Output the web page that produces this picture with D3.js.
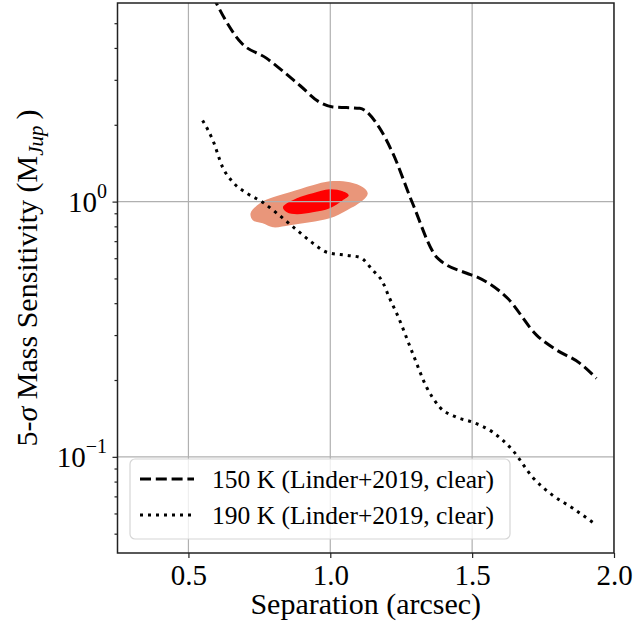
<!DOCTYPE html>
<html>
<head>
<meta charset="utf-8">
<script src="https://cdn.jsdelivr.net/npm/d3@7"></script>
<style>
  body { margin: 0; background: #fff; }
  svg text { font-family: "Liberation Serif", "DejaVu Serif", serif; fill: #000; }
</style>
</head>
<body>
<svg id="chart" width="634" height="628"></svg>
<script>

// 150 K curve (Linder+2019, clear): [separation arcsec, mass M_Jup]
var curve150 = [
  [0.56, 7.3], [0.687, 4.18], [0.776, 3.64], [0.822, 3.32], [0.893, 2.85],
  [0.963, 2.45], [1.009, 2.35], [1.104, 2.32], [1.174, 1.94], [1.220, 1.55],
  [1.290, 0.985], [1.375, 0.605], [1.396, 0.578], [1.481, 0.524], [1.520, 0.505],
  [1.625, 0.418], [1.727, 0.300], [1.798, 0.262], [1.879, 0.233], [1.938, 0.203]
];

// 190 K curve (Linder+2019, clear)
var curve190 = [
  [0.550, 2.08], [0.586, 1.74], [0.621, 1.36], [0.657, 1.19], [0.706, 1.078],
  [0.762, 0.994], [0.812, 0.90], [0.875, 0.786], [0.939, 0.687], [0.988, 0.633],
  [1.058, 0.616], [1.104, 0.605], [1.150, 0.538], [1.185, 0.483], [1.209, 0.418],
  [1.234, 0.365], [1.290, 0.255], [1.340, 0.187], [1.386, 0.1565], [1.445, 0.143],
  [1.502, 0.1367], [1.572, 0.125], [1.643, 0.106], [1.713, 0.0832], [1.783, 0.0708],
  [1.854, 0.063], [1.938, 0.054]
];

// posterior contours (outer and inner levels)
var contourOuter = [
  [0.719, 0.900], [0.752, 0.985], [0.798, 1.039], [0.857, 1.087], [0.938, 1.158],
  [0.998, 1.201], [1.069, 1.190], [1.115, 1.138], [1.132, 1.078], [1.115, 1.012],
  [1.059, 0.925], [0.998, 0.860], [0.928, 0.830], [0.857, 0.808], [0.798, 0.793],
  [0.762, 0.822], [0.727, 0.845]
];
var contourInner = [
  [0.833, 0.950], [0.882, 1.030], [0.938, 1.078], [0.998, 1.117], [1.044, 1.097],
  [1.065, 1.058], [1.044, 1.012], [0.998, 0.942], [0.938, 0.908], [0.882, 0.892],
  [0.847, 0.908]
];

var xTicks = [0.5, 1.0, 1.5, 2.0];
var yMajor = [0.1, 1];
var yMinor = [0.05, 0.06, 0.07, 0.08, 0.09, 0.2, 0.3, 0.4, 0.5, 0.6, 0.7, 0.8, 0.9, 2, 3, 4, 5];
var legendLabels = ['150 K (Linder+2019, clear)', '190 K (Linder+2019, clear)'];

(function() {

var svg = d3.select('#chart'),
    pl = 117.5, pt = 3, pr = 614, pb = 553,
    x = d3.scaleLinear().domain([0.25, 2.0]).range([pl, pr]),
    y = d3.scaleLog().domain([0.042, 6]).range([pb, pt]);

svg.append('clipPath')
    .attr('id', 'clip')
  .append('rect')
    .attr('x', pl).attr('y', pt)
    .attr('width', pr - pl).attr('height', pb - pt);

var plot = svg.append('g').attr('clip-path', 'url(#clip)');

var area = d3.line()
    .x(function(d) { return x(d[0]); })
    .y(function(d) { return y(d[1]); })
    .curve(d3.curveCatmullRomClosed);

plot.append('path')
    .attr('d', area(contourOuter))
    .attr('fill', '#e9967a');

plot.append('path')
    .attr('d', area(contourInner))
    .attr('fill', '#ff0000');

// grid
xTicks.forEach(function(t) {
  plot.append('line')
      .attr('x1', x(t)).attr('x2', x(t))
      .attr('y1', pt).attr('y2', pb)
      .attr('stroke', '#b0b0b0').attr('stroke-width', 1.2);
});
yMajor.forEach(function(t) {
  plot.append('line')
      .attr('x1', pl).attr('x2', pr)
      .attr('y1', y(t)).attr('y2', y(t))
      .attr('stroke', '#b0b0b0').attr('stroke-width', 1.2);
});

var lineFunction = d3.line()
    .x(function(d) { return x(d[0]); })
    .y(function(d) { return y(d[1]); })
    .curve(d3.curveMonotoneX);

var dash150 = '11,4.8', dot190 = '3,5';

plot.append('path')
    .attr('d', lineFunction(curve150))
    .attr('fill', 'none')
    .attr('stroke', '#000')
    .attr('stroke-width', 3)
    .attr('stroke-dasharray', dash150);

plot.append('path')
    .attr('d', lineFunction(curve190))
    .attr('fill', 'none')
    .attr('stroke', '#000')
    .attr('stroke-width', 3)
    .attr('stroke-dasharray', dot190);

// axes
var xAxis = svg.append('g')
    .attr('transform', 'translate(0,' + pb + ')')
    .call(d3.axisBottom(x).tickValues(xTicks).tickFormat(d3.format('.1f')).tickSize(5).tickPadding(6));

var yAxisMinor = svg.append('g')
    .attr('transform', 'translate(' + pl + ',0)')
    .call(d3.axisLeft(y).tickValues(yMinor).tickFormat('').tickSize(3));

var yAxis = svg.append('g')
    .attr('transform', 'translate(' + pl + ',0)')
    .call(d3.axisLeft(y).tickValues(yMajor).tickFormat('').tickSize(5));

[xAxis, yAxis, yAxisMinor].forEach(function(a) {
  a.select('.domain').remove();
  a.selectAll('line').attr('stroke', '#222').attr('stroke-width', 1.2);
});
xAxis.selectAll('text')
    .attr('fill', '#000')
    .style('font-size', '29px')
    .style('font-family', '"Liberation Serif", serif');

yMajor.forEach(function(t) {
  var lbl = svg.append('text')
      .attr('x', 107)
      .attr('y', y(t) + 10)
      .attr('text-anchor', 'end')
      .style('font-size', '29px');
  lbl.append('tspan').text('10');
  lbl.append('tspan')
      .attr('dy', -14)
      .style('font-size', '20px')
      .text(t === 1 ? '0' : '\u22121');
});

// frame
svg.append('rect')
    .attr('x', pl).attr('y', pt)
    .attr('width', pr - pl).attr('height', pb - pt)
    .attr('fill', 'none')
    .attr('stroke', '#222')
    .attr('stroke-width', 1.5);

// axis labels
svg.append('text')
    .attr('x', (pl + pr) / 2)
    .attr('y', 614)
    .attr('text-anchor', 'middle')
    .style('font-size', '30px')
    .text('Separation (arcsec)');

var ylab = svg.append('text')
    .attr('transform', 'translate(37,' + ((pt + pb) / 2) + ') rotate(-90)')
    .attr('text-anchor', 'middle')
    .style('font-size', '30px');
ylab.append('tspan').text('5-');
ylab.append('tspan').style('font-style', 'italic').text('\u03c3');
ylab.append('tspan').text(' Mass Sensitivity (M');
ylab.append('tspan').attr('dy', 6).style('font-style', 'italic').style('font-size', '21px').text('Jup');
ylab.append('tspan').attr('dy', -6).text('\u2009)');

// legend
var legend = svg.append('g');
legend.append('rect')
    .attr('x', 130).attr('y', 459)
    .attr('width', 380).attr('height', 80)
    .attr('rx', 5)
    .attr('fill', '#fff').attr('fill-opacity', 0.8)
    .attr('stroke', '#d6d6d6').attr('stroke-width', 1.2);

[dash150, dot190].forEach(function(pattern, i) {
  var ly = 479 + i * 36;
  legend.append('line')
      .attr('x1', 140).attr('x2', 194)
      .attr('y1', ly).attr('y2', ly)
      .attr('stroke', '#000').attr('stroke-width', 3)
      .attr('stroke-dasharray', pattern);
  legend.append('text')
      .attr('x', 212).attr('y', ly + 9)
      .style('font-size', '25.5px')
      .text(legendLabels[i]);
});

})();

</script>
</body>
</html>
